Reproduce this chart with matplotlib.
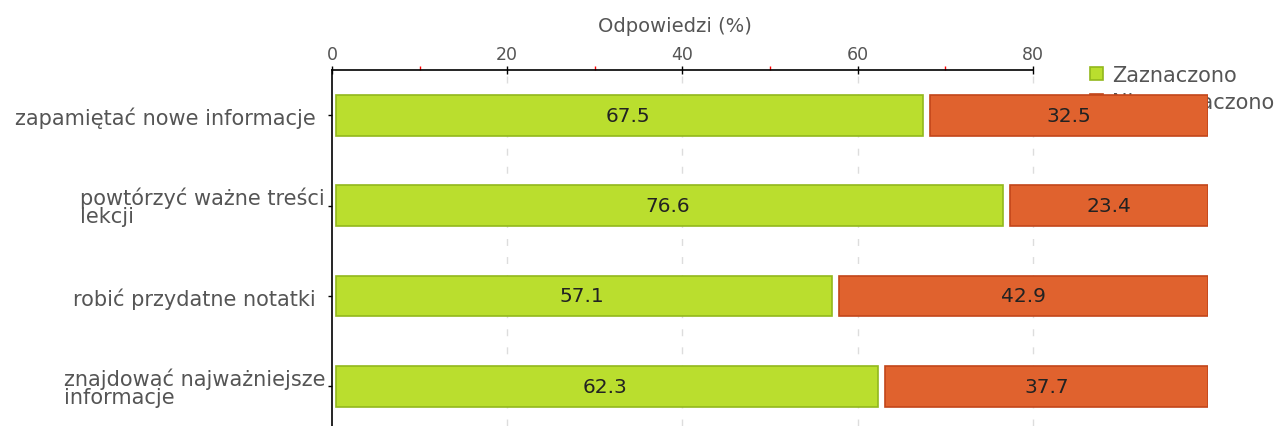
import matplotlib.pyplot as plt
from matplotlib.transforms import ScaledTranslation
import numpy as np

categories = [
    "zapamiętać nowe informacje",
    "powtórzyć ważne treści\nlekcji",
    "robić przydatne notatki",
    "znajdować najważniejsze\ninformacje",
]
zaznaczono = [67.5, 76.6, 57.1, 62.3]
nie_zaznaczono = [32.5, 23.4, 42.9, 37.7]
series_names = ["Zaznaczono", "Nie zaznaczono"]
major_ticks = [0, 20, 40, 60, 80]
minor_ticks = [10, 30, 50, 70]

green = "#bade2e"
green_edge = "#92b81c"
orange = "#e0622e"
orange_edge = "#c2461a"
text_grey = "#555555"

fig = plt.figure(figsize=(12.77, 4.27), dpi=100)
ax = fig.add_axes([332 / 1277, 0.0, 876 / 1277, 1 - 71 / 427])
ax.set_zorder(2)
ax.patch.set_alpha(0)

y = np.arange(len(categories))
gap = 0.8
start = 0.45
h = 0.45

g = np.array(zaznaczono)
o = np.array(nie_zaznaczono)
ax.barh(y, g - start, left=start, height=h, color=green, edgecolor=green_edge,
        linewidth=1.2, zorder=3, label=series_names[0])
ax.barh(y, o - gap, left=g + gap, height=h, color=orange, edgecolor=orange_edge,
        linewidth=1.2, zorder=3, label=series_names[1])

for i in range(len(categories)):
    ax.text(g[i] / 2, y[i], f"{g[i]:.1f}", ha="center", va="center",
            fontsize=14.5, color="#222222", zorder=4)
    ax.text(g[i] + gap + (o[i] - gap) / 2, y[i], f"{o[i]:.1f}", ha="center",
            va="center", fontsize=14.5, color="#222222", zorder=4)

ax.set_xlim(0, 100)
ax.set_ylim(len(categories) - 0.56, -0.5)

ax.xaxis.tick_top()
ax.set_xticks(major_ticks)
ax.set_xticklabels([str(t) for t in major_ticks], color=text_grey, fontsize=12.5)
ax.set_xticks(minor_ticks, minor=True)
ax.tick_params(axis="x", which="major", direction="inout", length=6, width=1,
               pad=2)
ax.tick_params(axis="x", which="minor", direction="out", length=3, width=1,
               color="red")
for t in major_ticks[1:]:
    ax.axvline(t, color="#dddddd", linestyle=(0, (5, 8)), linewidth=1, zorder=1)

ax.set_yticks(y)
ax.set_yticklabels(categories, color=text_grey, fontsize=15,
                   multialignment="left", linespacing=0.85)
ax.tick_params(axis="y", length=3, width=1, pad=8.5)
# wrapped labels sit a bit closer to the axis
for lab in ax.get_yticklabels():
    if "\n" in lab.get_text():
        lab.set_transform(lab.get_transform()
                          + ScaledTranslation(9 / 100, 0, fig.dpi_scale_trans))

ax.spines["right"].set_visible(False)
ax.spines["bottom"].set_visible(False)
ax.spines["top"].set_bounds(0, 80)
ax.spines["top"].set_linewidth(1.2)
ax.spines["left"].set_linewidth(1.2)

fig.text(675 / 1277, 1 - 27 / 427, "Odpowiedzi (%)", ha="center", va="center",
         fontsize=14, color=text_grey)

leg = fig.legend(loc="upper left", bbox_to_anchor=(1090 / 1277, 1 - 66 / 427),
                 frameon=False, fontsize=15, handlelength=0.6, handleheight=0.6,
                 handletextpad=0.45, labelspacing=0.35, borderaxespad=0,
                 borderpad=0)
for txt in leg.get_texts():
    txt.set_color(text_grey)
leg.set_zorder(1)

fig.savefig("out.png", dpi=100)
